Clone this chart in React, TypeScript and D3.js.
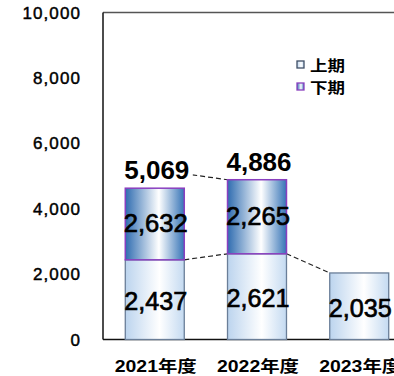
import React from "react";
import * as d3 from "d3";

const categories = ["2021年度", "2022年度", "2023年度"];
// 上期 (first half) values
const lowerValues = [2437, 2621, 2035];
// 下期 (second half) bar heights as drawn in the picture
const upperBarValues = [2190, 2265, 0];
// 下期 printed labels
const upperLabels = ["2,632", "2,265", ""];
// Annual totals (labels and series line)
const totalValues = [5069, 4886];
const yTicks = [0, 2000, 4000, 6000, 8000, 10000];
const legendItems = ["上期", "下期"];

const W = 394;
const H = 376;

export default function App() {
  const y = d3.scaleLinear().domain([0, 10000]).range([339.5, 12.5]);
  const x = d3
    .scaleBand<string>()
    .domain(categories)
    .range([103, 411])
    .paddingInner(0.423)
    .paddingOuter(0.218);
  const bw = x.bandwidth();
  const fmt = d3.format(",");
  const numFont = "'Liberation Sans', Arial, sans-serif";
  const cjkFont = "'Liberation Sans', 'Noto Sans CJK JP', sans-serif";

  const lowerTop = (i: number) => y(lowerValues[i]);
  const upperTop = (i: number) => y(lowerValues[i] + upperBarValues[i]);

  return (
    <svg
      width={W}
      height={H}
      style={{ position: "absolute", left: 0, top: 0, background: "#fff" }}
    >
      <defs>
        <linearGradient id="gLower" x1="0" x2="1" y1="0" y2="0">
          <stop offset="0" stopColor="#bcd4ee" />
          <stop offset="0.58" stopColor="#ffffff" />
          <stop offset="1" stopColor="#c4daf1" />
        </linearGradient>
        <linearGradient id="gUpper" x1="0" x2="1" y1="0" y2="0">
          <stop offset="0" stopColor="#2f6cb0" />
          <stop offset="0.57" stopColor="#ffffff" />
          <stop offset="1" stopColor="#3573b6" />
        </linearGradient>
      </defs>

      {/* plot frame */}
      <line x1={103} x2={W} y1={12.5} y2={12.5} stroke="#555" strokeWidth={1.5} />
      <line x1={103} x2={103} y1={12.5} y2={339.5} stroke="#111" strokeWidth={1.5} />
      <line x1={103} x2={W} y1={339.5} y2={339.5} stroke="#111" strokeWidth={1.5} />

      {/* y tick labels */}
      {yTicks.map((t) => (
        <text
          key={t}
          x={81}
          y={y(t) + 6}
          textAnchor="end"
          fontFamily={numFont}
          fontSize={17}
          letterSpacing={1.1}
          fill="#000"
          stroke="#000"
          strokeWidth={0.45}
        >
          {fmt(t)}
        </text>
      ))}

      {/* dashed series lines */}
      {lowerValues.slice(0, -1).map((v, i) => (
        <line
          key={"ll" + i}
          x1={(x(categories[i]) as number) + bw}
          y1={lowerTop(i)}
          x2={x(categories[i + 1]) as number}
          y2={lowerTop(i + 1)}
          stroke="#222"
          strokeWidth={1.2}
          strokeDasharray="5,3"
        />
      ))}
      {totalValues.slice(0, -1).map((v, i) => (
        <line
          key={"tl" + i}
          x1={(x(categories[i]) as number) + bw}
          y1={y(totalValues[i])}
          x2={x(categories[i + 1]) as number}
          y2={y(totalValues[i + 1])}
          stroke="#222"
          strokeWidth={1.2}
          strokeDasharray="5,3"
        />
      ))}

      {/* bars */}
      {categories.map((c, i) => {
        const x0 = x(c) as number;
        return (
          <g key={c}>
            <rect
              x={x0}
              y={lowerTop(i)}
              width={bw}
              height={y(0) - lowerTop(i)}
              fill="url(#gLower)"
              stroke="#6a7e98"
              strokeWidth={1.3}
            />
            {upperBarValues[i] > 0 && (
              <rect
                x={x0}
                y={upperTop(i)}
                width={bw}
                height={lowerTop(i) - upperTop(i)}
                fill="url(#gUpper)"
                stroke="#8a3fbf"
                strokeWidth={1.5}
              />
            )}
          </g>
        );
      })}

      {/* segment labels */}
      {categories.map((c, i) => {
        const cx = (x(c) as number) + bw / 2;
        const lowerMid = (y(0) + lowerTop(i)) / 2;
        const upperMid = (lowerTop(i) + upperTop(i)) / 2;
        return (
          <g key={"lab" + c}>
            <text
              x={cx + 1}
              y={lowerMid + 10.5}
              textAnchor="middle"
              fontFamily={numFont}
              fontSize={26}
              textLength={63}
              lengthAdjust="spacingAndGlyphs"
              fill="#000"
              stroke="#000"
              strokeWidth={0.7}
            >
              {fmt(lowerValues[i])}
            </text>
            {upperLabels[i] && (
              <text
                x={cx + 1}
                y={upperMid + 8}
                textAnchor="middle"
                fontFamily={numFont}
                fontSize={26}
                textLength={64}
                lengthAdjust="spacingAndGlyphs"
                fill="#000"
                stroke="#000"
                strokeWidth={0.7}
              >
                {upperLabels[i]}
              </text>
            )}
          </g>
        );
      })}

      {/* total labels */}
      {totalValues.map((t, i) => {
        const cx = (x(categories[i]) as number) + bw / 2;
        const top = upperTop(i);
        return (
          <g key={"tot" + i}>
            <rect x={cx - 34} y={top - 31} width={72} height={24} fill="#fff" />
            <text
              x={cx + 2}
              y={top - 9}
              textAnchor="middle"
              fontFamily={numFont}
              fontWeight="bold"
              fontSize={26}
              fill="#000"
            >
              {fmt(t)}
            </text>
          </g>
        );
      })}

      {/* category labels */}
      {categories.map((c) => (
        <text
          key={"cat" + c}
          x={(x(c) as number) + bw / 2 + 1}
          y={372}
          textAnchor="middle"
          fontFamily={cjkFont}
          fontWeight="bold"
          fontSize={16}
          textLength={82}
          lengthAdjust="spacingAndGlyphs"
          fill="#000"
        >
          {c}
        </text>
      ))}

      {/* legend */}
      {legendItems.map((l, i) => (
        <g key={l} transform={`translate(297, ${61 + i * 22})`}>
          <rect
            x={0}
            y={0}
            width={7}
            height={7}
            fill={i === 0 ? "url(#gLower)" : "url(#gUpper)"}
            stroke={i === 0 ? "#3f4f66" : "#8a3fbf"}
            strokeWidth={1.3}
          />
          <text
            x={13}
            y={9.5}
            fontFamily="'Noto Sans CJK JP', sans-serif"
            fontWeight="bold"
            fontSize={15}
            textLength={35}
            lengthAdjust="spacingAndGlyphs"
            fill="#000"
          >
            {l}
          </text>
        </g>
      ))}
    </svg>
  );
}
